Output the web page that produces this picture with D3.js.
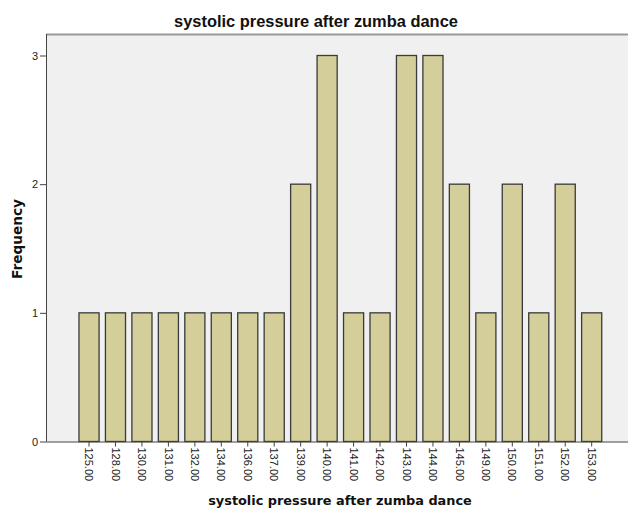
<!DOCTYPE html>
<html><head><meta charset="utf-8">
<script src="https://cdn.jsdelivr.net/npm/d3@7"></script>
<style>body{margin:0;background:#fff;} text{font-family:"Liberation Sans",Arial,sans-serif;}</style>
</head><body>
<svg id="c" width="629" height="510"></svg>
<script>
const categories = ["125.00","128.00","130.00","131.00","132.00","134.00","136.00","137.00","139.00","140.00","141.00","142.00","143.00","144.00","145.00","149.00","150.00","151.00","152.00","153.00"];
const frequency = [1,1,1,1,1,1,1,1,2,3,1,1,3,3,2,1,2,1,2,1];
const yTicks = [0,1,2,3];
const title = "systolic pressure after zumba dance";
const xTitle = "systolic pressure after zumba dance";
const yTitle = "Frequency";

const svg = d3.select("#c");
const plot = {left:46, right:628, top:34, bottom:441.5};

svg.append("rect").attr("x",plot.left).attr("y",plot.top)
  .attr("width",plot.right-plot.left).attr("height",plot.bottom-plot.top)
  .attr("fill","#f0f0f0");
svg.append("line").attr("x1",plot.left).attr("x2",plot.right).attr("y1",plot.top+0.5).attr("y2",plot.top+0.5)
  .attr("stroke","#999").attr("stroke-width",2);

const x = d3.scaleBand().domain(categories).range([75.8,604.9]).paddingInner(0.24).paddingOuter(0.12);
const y = d3.scaleLinear().domain([0,3]).range([441.5,55.5]);

svg.append("g").selectAll("rect").data(categories).join("rect")
  .attr("x",d=>x(d)).attr("y",(d,i)=>y(frequency[i]))
  .attr("width",x.bandwidth()).attr("height",(d,i)=>y(0)-y(frequency[i]))
  .attr("fill","#d3ce9a").attr("stroke","#3a3a3a").attr("stroke-width",1.3);

// y axis
const ya = svg.append("g").attr("transform",`translate(${plot.left},0)`)
  .call(d3.axisLeft(y).tickValues(yTicks).tickFormat(d3.format("d")).tickSize(6).tickPadding(2));
ya.select(".domain").attr("d",`M0.5,${plot.top}V${plot.bottom}`).attr("stroke","#444");
ya.selectAll(".tick line").attr("stroke","#444");
ya.selectAll(".tick text").attr("font-size",11).attr("fill","#222");

// x axis
const xa = svg.append("g").attr("transform",`translate(0,${plot.bottom})`)
  .call(d3.axisBottom(x).tickSize(5).tickPadding(3));
xa.select(".domain").attr("d",`M${plot.left},0.5H${plot.right}`).attr("stroke","#444");
xa.selectAll(".tick line").attr("stroke","#444");
xa.selectAll(".tick text").attr("font-size",11).attr("fill","#222")
  .attr("transform","rotate(90)").attr("text-anchor","start")
  .attr("x",6).attr("y",0).attr("dy","0.35em");

function fit(sel, target){
  const fs = +sel.attr("font-size");
  const w = sel.node().getComputedTextLength();
  if (w > 0) sel.attr("font-size", fs * target / w);
}
const tt = svg.append("text").attr("x",316).attr("y",27).attr("text-anchor","middle")
  .attr("font-size",16).attr("font-weight","bold").attr("fill","#111").text(title);
fit(tt, 284);
const xt = svg.append("text").attr("x",340).attr("y",505).attr("text-anchor","middle")
  .style("font-family","'DejaVu Sans',Verdana,sans-serif")
  .attr("font-size",12.5).attr("font-weight","bold").attr("fill","#111").text(xTitle);
fit(xt, 264);
const yt = svg.append("text").attr("transform","translate(22,239) rotate(-90)").attr("text-anchor","middle")
  .style("font-family","'DejaVu Sans',Verdana,sans-serif")
  .attr("font-size",12.5).attr("font-weight","bold").attr("fill","#111").text(yTitle);
fit(yt, 80);
</script>
</body></html>
